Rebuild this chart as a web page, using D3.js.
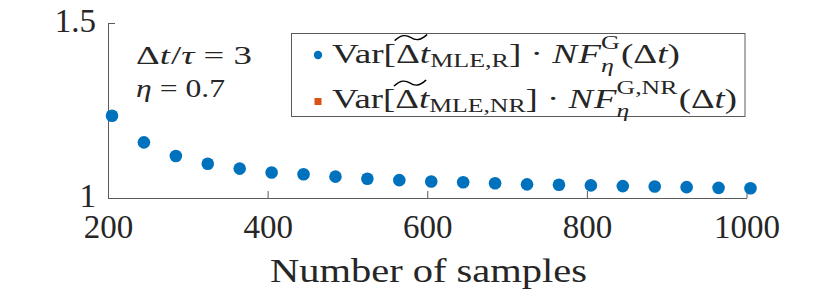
<!DOCTYPE html>
<html>
<head>
<meta charset="utf-8">
<script src="https://cdn.jsdelivr.net/npm/d3@7"></script>
<style>
  html, body { margin: 0; padding: 0; background: #fff; }
  svg { display: block; }
  text { font-family: "Liberation Serif", "Times New Roman", serif; fill: #262626; white-space: pre; }
</style>
</head>
<body>
<svg id="chart" width="830" height="298"></svg>
<script>
// ---- data ----
const samples = [205, 245, 285, 325, 365, 405, 445, 485, 525, 565, 605,
                 645, 685, 725, 765, 805, 845, 885, 925, 965, 1005];
const varR = [1.235, 1.159, 1.120, 1.098, 1.084, 1.073, 1.068, 1.061, 1.055, 1.051, 1.047,
              1.045, 1.042, 1.039, 1.038, 1.036, 1.034, 1.033, 1.031, 1.029, 1.028];
const varNR = []; // not visible inside the plotted range
const xTicks = [200, 400, 600, 800, 1000];
const yTicks = [1, 1.5];
const xLabel = "Number of samples";

const svg = d3.select("#chart");
const x = d3.scaleLinear().domain([200, 1000]).range([108, 746.5]);
const y = d3.scaleLinear().domain([1, 1.5]).range([198, 23]);

// axes
const gx = svg.append("g").attr("transform", `translate(0,${y(1)})`)
  .call(d3.axisBottom(x).tickValues(xTicks).tickFormat(d3.format("d"))
        .tickSizeInner(-7).tickSizeOuter(0));
gx.selectAll("text").attr("y", 40).attr("dy", 0)
  .style("font-size", "33px").style("font-family", "Liberation Serif").attr("fill", "#262626");
const gy = svg.append("g").attr("transform", `translate(${x(200)},0)`)
  .call(d3.axisLeft(y).tickValues(yTicks).tickFormat(d => d === 1 ? "1" : d3.format(".1f")(d))
        .tickSizeInner(-7).tickSizeOuter(0));
gy.selectAll("text").attr("x", -12).attr("dy", 8)
  .style("font-size", "33px").style("font-family", "Liberation Serif").attr("fill", "#262626");
svg.selectAll(".domain, .tick line").attr("stroke", "#5a5a5a").attr("stroke-width", 1);

// x label
svg.append("text").attr("x", 428.5).attr("y", 281.5).attr("text-anchor", "middle")
  .attr("textLength", 317).attr("lengthAdjust", "spacingAndGlyphs")
  .style("font-size", "34px").text(xLabel);

// points
svg.append("g").selectAll("circle").data(samples.map((s, i) => [s, varR[i]]))
  .join("circle").attr("cx", d => x(d[0])).attr("cy", d => y(d[1]))
  .attr("r", 6.3).attr("fill", "#0072BD");
svg.append("g").selectAll("rect").data(varNR.map((v, i) => [samples[i], v]))
  .join("rect").attr("x", d => x(d[0]) - 4).attr("y", d => y(d[1]) - 4)
  .attr("width", 8).attr("height", 8).attr("fill", "#D95319");

// math text renderer
function renderMath(parent, x0, y0, size, parts, targetWidth) {
  const g = parent.append("g");
  let cx = 0;
  function piece(p, px) {
    const fs = size * (p.sc || 1);
    const t = g.append("text").attr("x", px).attr("y", (p.sh || 0) * size)
      .style("font-size", fs + "px").style("font-style", p.it ? "italic" : "normal")
      .attr("fill", "#000").text(p.t);
    const w = t.node().getComputedTextLength();
    if (p.tilde) {
      const a = px - 1, b = px + w * 1.3, yb = -size * 0.78, yt = -size * 1.0;
      const ww = b - a;
      g.append("path")
        .attr("d", `M${a},${yb} C${a + ww * 0.2},${yt} ${a + ww * 0.35},${yt} ${a + ww * 0.5},${(yb + yt) / 2} S${a + ww * 0.8},${yb} ${b},${yt}`)
        .attr("fill", "none").attr("stroke", "#000").attr("stroke-width", 1.3);
    }
    return w;
  }
  parts.forEach(p => {
    if (p.stack) {
      const w1 = piece(p.stack[0], cx), w2 = piece(p.stack[1], cx);
      cx += Math.max(w1, w2) + 1;
    } else {
      cx += piece(p, cx) + (p.k || 0) * size;
    }
  });
  const sx = targetWidth ? targetWidth / cx : 1;
  g.attr("transform", `translate(${x0},${y0}) scale(${sx},1)`);
  return g;
}

// annotation
renderMath(svg, 136, 63.5, 25, [
  {t: "Δ"}, {t: "t", it: true, k: 0.03}, {t: "/"}, {t: "τ", it: true}, {t: " = "}, {t: "3"}
], 116);
renderMath(svg, 136, 97, 25, [
  {t: "η", it: true}, {t: " = "}, {t: "0.7"}
], 89);

// legend
const leg = svg.append("g");
leg.append("rect").attr("x", 291.5).attr("y", 33.5).attr("width", 453.5).attr("height", 83)
  .attr("fill", "#fff").attr("stroke", "#5a5a5a").attr("stroke-width", 1);
leg.append("circle").attr("cx", 318).attr("cy", 55).attr("r", 4.2).attr("fill", "#0072BD");
leg.append("rect").attr("x", 314.5).attr("y", 98).attr("width", 7).attr("height", 7).attr("fill", "#D95319");

function legendParts(sub, sup) {
  return [
    {t: "Var"}, {t: "["}, {t: "Δ", tilde: true}, {t: "t", it: true},
    {t: sub, sc: 0.7, sh: 0.15}, {t: "]"}, {t: " · "}, {t: "N", it: true, k: 0.03}, {t: "F", it: true},
    {stack: [{t: "η", it: true, sc: 0.7, sh: 0.33}, {t: sup, sc: 0.7, sh: -0.5}]},
    {t: "("}, {t: "Δ"}, {t: "t", it: true}, {t: ")"}
  ];
}
renderMath(leg, 332, 62.5, 28, legendParts("MLE,R", "G"), 348);
renderMath(leg, 332, 108, 28, legendParts("MLE,NR", "G,NR"), 405);
</script>
</body>
</html>
